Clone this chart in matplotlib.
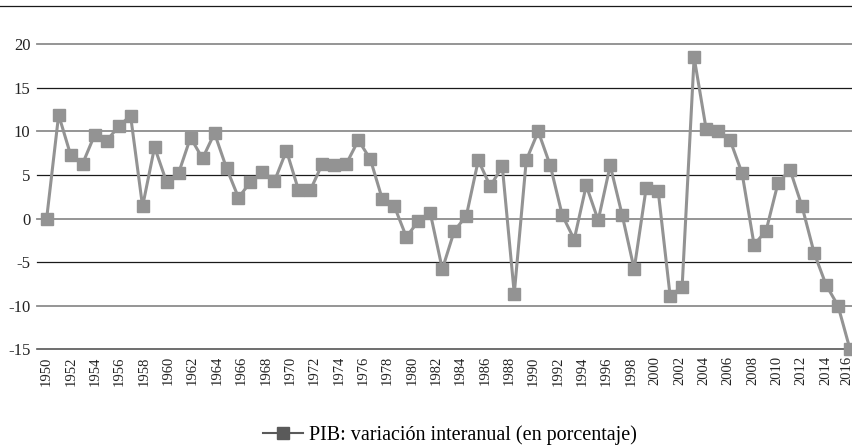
import matplotlib
matplotlib.use('Agg')
import matplotlib.pyplot as plt
from matplotlib.lines import Line2D
import matplotlib.transforms as mtransforms
import numpy as np

plt.rcParams['font.family'] = ['Liberation Serif', 'DejaVu Serif']
plt.rcParams['axes.unicode_minus'] = False

# variación interanual del PIB (%), 68 puntos
pib = [0.0, 11.9, 7.3, 6.3, 9.6, 8.9, 10.6, 11.8, 1.4, 8.2,
       4.2, 5.2, 9.3, 6.9, 9.8, 5.8, 2.4, 4.2, 5.3, 4.3,
       7.8, 3.3, 3.3, 6.3, 6.1, 6.3, 9.0, 6.8, 2.2, 1.4,
       -2.1, -0.3, 0.6, -5.8, -1.4, 0.3, 6.7, 3.7, 6.0, -8.6,
       6.7, 10.0, 6.1, 0.4, -2.4, 3.8, -0.2, 6.1, 0.4, -5.8,
       3.5, 3.2, -8.9, -7.8, 18.5, 10.3, 10.0, 9.0, 5.2, -3.0,
       -1.4, 4.1, 5.6, 1.4, -3.9, -7.6, -10.0, -15.0]
year_labels = [str(y) for y in range(1950, 2017, 2)]
y_ticks = [20, 15, 10, 5, 0, -5, -10, -15]

line_col = '#939393'

fig = plt.figure(figsize=(8.53, 4.47), dpi=100)
ax = fig.add_axes([36.7/853, 1-349.3/447, 1-36.7/853, 305/447])

x = np.arange(len(pib))
ax.plot(x, pib, color=line_col, linewidth=2.2, marker='s', markersize=8.5,
        markerfacecolor=line_col, markeredgecolor=line_col, clip_on=False, zorder=3)

ax.set_xlim(-0.83, len(pib) - 1 + 0.25)
ax.set_ylim(-15, 20)
ax.set_yticks(y_ticks)
ax.set_yticklabels([str(v) for v in y_ticks], fontsize=12)
ax.set_xticks(np.linspace(0, len(pib) - 1, len(year_labels)))
ax.set_xticklabels(year_labels, rotation=90, fontsize=10.5)
ax.tick_params(length=0, colors='#222222')
ax.tick_params(axis='y', pad=4.5)
ax.tick_params(axis='x', pad=5)

# el último año queda pegado al borde: se corre un poco a la izquierda
last = ax.get_xticklabels()[-1]
last.set_transform(last.get_transform() +
                   mtransforms.ScaledTranslation(-3/100, 0, fig.dpi_scale_trans))

for s in ax.spines.values():
    s.set_visible(False)

# líneas horizontales alternando gris y negro
for v in y_ticks:
    if v in (15, 5, -5):
        ax.axhline(v, color='#1a1a1a', linewidth=0.9, zorder=1, clip_on=False)
    elif v == -15:
        ax.axhline(v, color='#555555', linewidth=1.2, zorder=1, clip_on=False)
    else:
        ax.axhline(v, color='#8c8c8c', linewidth=1.3, zorder=1, clip_on=False)

# línea superior de la página
fig.add_artist(Line2D([0, 1], [1-6/447, 1-6/447], color='#1a1a1a', linewidth=0.9))

handle = Line2D([], [], color='#5a5a5a', linewidth=1.5, marker='s', markersize=8)
fig.legend([handle], ['PIB: variación interanual (en porcentaje)'],
           loc='center', bbox_to_anchor=(450/853, 1-435/447), frameon=False,
           fontsize=14.5, handlelength=2.0, handletextpad=0.3)

fig.savefig('out.png', dpi=100)
